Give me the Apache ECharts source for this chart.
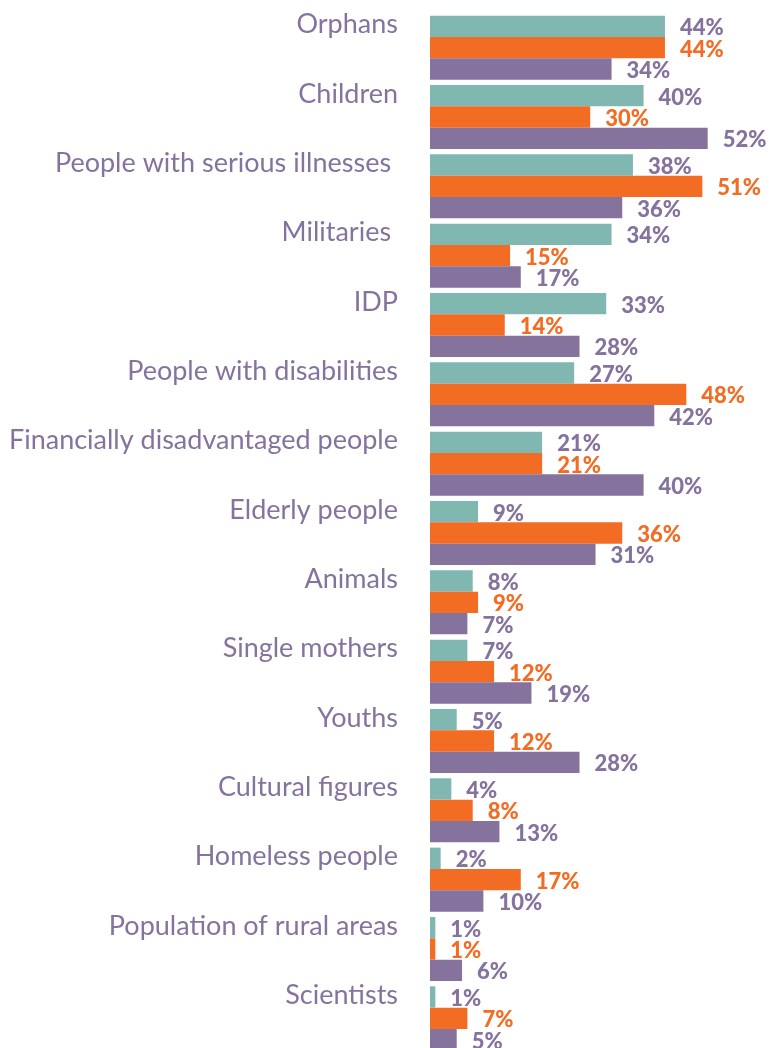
<!DOCTYPE html>
<html>
<head>
<meta charset="utf-8">
<script src="https://cdn.jsdelivr.net/npm/echarts@6/dist/echarts.min.js"></script>
<style>
  html, body { margin: 0; padding: 0; background: #fff; }
  #chart { width: 770px; height: 1048px; }
</style>
</head>
<body>
<div id="chart"></div>
<script>
// categories, top to bottom
var categories = [
  'Orphans', 'Children', 'People with serious illnesses ', 'Militaries ', 'IDP',
  'People with disabilities', 'Financially disadvantaged people', 'Elderly people',
  'Animals', 'Single mothers', 'Youths', 'Cultural figures', 'Homeless people',
  'Population of rural areas', 'Scientists'
]
var tealValues   = [44, 40, 38, 34, 33, 27, 21, 9, 8, 7, 5, 4, 2, 1, 1]
var orangeValues = [44, 30, 51, 15, 14, 48, 21, 36, 9, 12, 12, 8, 17, 1, 7]
var purpleValues = [34, 52, 36, 17, 28, 42, 40, 31, 7, 19, 28, 13, 10, 6, 5]

var teal = '#80b7b1'
var orange = '#f36c23'
var purple = '#85739e'

function barSeries(name, data, color, labelColor) {
  return {
    name: name,
    type: 'bar',
    data: data,
    barGap: '0%',
    barCategoryGap: '7.6%',
    itemStyle: { color: color },
    label: {
      show: true,
      position: 'right',
      distance: 15,
      offset: [0, 2],
      formatter: '{c}%',
      color: labelColor,
      fontFamily: 'Lato',
      fontWeight: 900,
      fontSize: 22
    },
    animation: false
  }
}

var chart = echarts.init(document.getElementById('chart'))
chart.setOption({
  animation: false,
  grid: {
    left: 430, top: 13, width: 320.4, height: 1040,
    containLabel: false,
    outerBoundsMode: 'none'
  },
  xAxis: {
    type: 'value',
    min: 0,
    max: 60,
    show: false
  },
  yAxis: {
    type: 'category',
    inverse: true,
    data: categories,
    axisLine: { show: false },
    axisTick: { show: false },
    axisLabel: {
      interval: 0,
      showMinLabel: true,
      showMaxLabel: true,
      hideOverlap: false,
      margin: 32,
      color: purple,
      fontFamily: 'Lato',
      fontSize: 27,
      lineHeight: 46,
      // put the name on the upper line so it sits level with the first bar
      formatter: function (v) { return v + '\n' }
    }
  },
  series: [
    barSeries('teal', tealValues, teal, purple),
    barSeries('orange', orangeValues, orange, orange),
    barSeries('purple', purpleValues, purple, purple)
  ]
})
</script>
</body>
</html>
